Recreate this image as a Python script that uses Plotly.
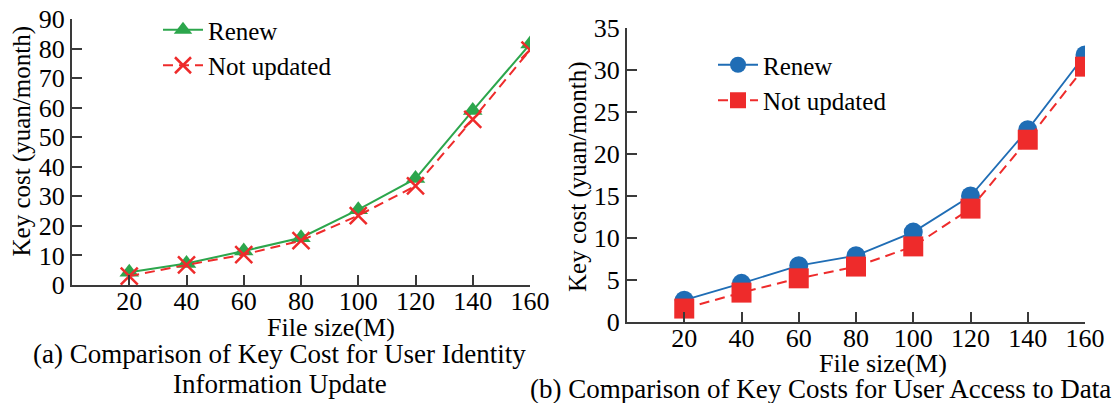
import plotly.graph_objects as go

file_size = [20, 40, 60, 80, 100, 120, 140, 160]
x_ticks = [20, 40, 60, 80, 100, 120, 140, 160]

# (a) user identity information update
a_renew = [4.3, 7.3, 11.5, 16.0, 25.5, 36.0, 59.0, 81.5]
a_not_updated = [3.0, 6.8, 10.3, 15.0, 23.5, 33.5, 56.0, 79.5]

# (b) user access to data
b_renew = [2.6, 4.6, 6.7, 7.9, 10.7, 15.0, 22.9, 31.8]
b_not_updated = [1.6, 3.5, 5.2, 6.6, 9.0, 13.5, 21.7, 30.4]

GREEN = "#2ca64c"
RED = "#ee2b2b"
BLUE = "#1f6db5"
AXIS = "#3a3a3a"
FONT = "Liberation Serif"
W, H = 1115, 403

fig = go.Figure()

fig.add_trace(go.Scatter(
    x=file_size, y=a_renew, name="Renew", mode="lines+markers",
    line=dict(color=GREEN, width=2),
    marker=dict(symbol="triangle-up", size=17, color=GREEN),
    xaxis="x", yaxis="y", legend="legend"))
fig.add_trace(go.Scatter(
    x=file_size, y=a_not_updated, name="Not updated", mode="lines+markers",
    line=dict(color=RED, width=2, dash="10px,6px"),
    marker=dict(symbol="x-thin", size=17, color=RED, line=dict(color=RED, width=2.5)),
    xaxis="x", yaxis="y", legend="legend"))

fig.add_trace(go.Scatter(
    x=file_size, y=b_renew, name="Renew", mode="lines+markers",
    line=dict(color=BLUE, width=1.8),
    marker=dict(symbol="circle", size=19, color=BLUE),
    xaxis="x2", yaxis="y2", legend="legend2"))
fig.add_trace(go.Scatter(
    x=file_size, y=b_not_updated, name="Not updated", mode="lines+markers",
    line=dict(color=RED, width=2, dash="10px,6px"),
    marker=dict(symbol="square", size=20, color=RED),
    xaxis="x2", yaxis="y2", legend="legend2"))


def px_x(p):
    return p / W


def px_y(p):
    return 1 - p / H


axis_common = dict(
    showline=True, linecolor=AXIS, linewidth=2, mirror=False,
    ticks="inside", ticklen=10, tickwidth=2, tickcolor=AXIS,
    showgrid=False, zeroline=False, automargin=False,
    tickfont=dict(family=FONT, size=26, color="black"),
)

fig.update_layout(
    template="none",
    width=W, height=H,
    margin=dict(l=0, r=0, t=0, b=0, pad=0),
    paper_bgcolor="white", plot_bgcolor="white",
    font=dict(family=FONT, size=26, color="black"),
    xaxis=dict(domain=[px_x(72), px_x(530)], range=[0, 160], tickvals=x_ticks,
               anchor="y", ticklabelstandoff=-8, **axis_common),
    yaxis=dict(domain=[px_y(285), px_y(19)], range=[0, 90], dtick=10,
               anchor="x", **axis_common),
    xaxis2=dict(domain=[px_x(627), px_x(1085)], range=[0, 160], tickvals=x_ticks,
                anchor="y2", ticklabelstandoff=-8, **axis_common),
    yaxis2=dict(domain=[px_y(322), px_y(28)], range=[0, 35], dtick=5,
                anchor="x2", **axis_common),
    legend=dict(x=px_x(158), y=px_y(7), xanchor="left", yanchor="top",
                bgcolor="rgba(0,0,0,0)", font=dict(family=FONT, size=25),
                itemwidth=40, tracegroupgap=0),
    legend2=dict(x=px_x(713), y=px_y(42), xanchor="left", yanchor="top",
                 bgcolor="rgba(0,0,0,0)", font=dict(family=FONT, size=25),
                 itemwidth=40, tracegroupgap=0),
    showlegend=True,
)


def label(text, x, y, size=26, angle=0):
    return dict(text=text, x=px_x(x), y=px_y(y), textangle=angle,
                xref="paper", yref="paper", showarrow=False,
                xanchor="center", yanchor="middle",
                font=dict(family=FONT, size=size))


ann = [
    label("Key cost (yuan/month)", 21.5, 141, size=25, angle=-90),
    label("Key cost (yuan/month)", 578, 177, size=25, angle=-90),
    label("File size(M)", 331, 327),
    label("File size(M)", 883, 363),
    label("(a) Comparison of Key Cost for User Identity", 279, 354, size=27),
    label("Information Update", 280, 384, size=27),
    label("(b) Comparison of Key Costs for User Access to Data", 820, 389, size=27),
]
fig.update_layout(annotations=ann)

fig.write_html("out.html")
